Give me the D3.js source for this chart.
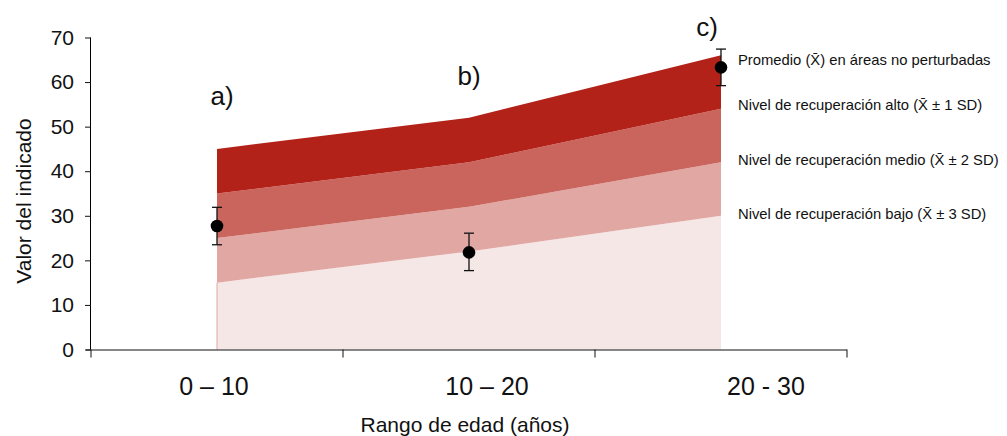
<!DOCTYPE html>
<html>
<head>
<meta charset="utf-8">
<script src="https://cdn.jsdelivr.net/npm/d3@7"></script>
<style>
  body { margin: 0; background: #fff; }
  svg { font-family: "Liberation Sans", Arial, Helvetica, sans-serif; }
</style>
</head>
<body>
<script>
// datos
var categorias = ["0 – 10", "10 – 20", "20 - 30"];
var letras = ["a)", "b)", "c)"];
var promedio = [27.7, 21.8, 63.3];
var errInf = [23.5, 17.7, 59.2];
var errSup = [31.9, 26.1, 67.4];
// limites de las bandas de recuperacion (de arriba a abajo)
var bandaTope = [45, 52, 66];
var banda1 = [35, 42, 54];
var banda2 = [25, 32, 42];
var banda3 = [15, 22, 30];
var ticksY = [0, 10, 20, 30, 40, 50, 60, 70];
var leyenda = [
  "Promedio (X\u0304) en áreas no perturbadas",
  "Nivel de recuperación alto (X\u0304 ± 1 SD)",
  "Nivel de recuperación medio (X\u0304 ± 2 SD)",
  "Nivel de recuperación bajo (X\u0304 ± 3 SD)"
];

var W = 1007, H = 436;
var svg = d3.select("body").append("svg")
  .attr("width", W)
  .attr("height", H);

var x = d3.scaleBand()
  .domain(categorias)
  .range([91, 847]);

var y = d3.scaleLinear()
  .domain([0, 70])
  .range([349.5, 37.5]);

var cx = function(i) { return x(categorias[i]) + x.bandwidth() / 2; };

// bandas, de la mas clara a la mas oscura
var capas = [
  { sup: banda3, inf: null, color: "#f5e7e6" },
  { sup: banda2, inf: banda3, color: "#e1a7a3" },
  { sup: banda1, inf: banda2, color: "#c9655d" },
  { sup: bandaTope, inf: banda1, color: "#b22219" }
];

var area = d3.area()
  .x(function(d) { return cx(d.i); })
  .y0(function(d) { return y(d.inf); })
  .y1(function(d) { return y(d.sup); });

capas.forEach(function(c) {
  var pts = categorias.map(function(k, i) {
    return { i: i, sup: c.sup[i], inf: c.inf ? c.inf[i] : 0 };
  });
  svg.append("path")
    .datum(pts)
    .attr("d", area)
    .attr("fill", c.color);
});

// borde izquierdo de la banda clara
svg.append("line")
  .attr("x1", cx(0)).attr("x2", cx(0))
  .attr("y1", y(0)).attr("y2", y(banda3[0]))
  .attr("stroke", "#e1a7a3")
  .attr("stroke-width", 1);

// ejes
var ejeY = svg.append("g")
  .attr("transform", "translate(91,0)")
  .call(d3.axisLeft(y).tickValues(ticksY).tickSize(6).tickPadding(11));
ejeY.select(".domain").attr("d", "M-0.5," + y(70) + "V" + y(0));
ejeY.selectAll("text").attr("font-size", 21).attr("fill", "#111").attr("font-family", null);
ejeY.selectAll("line").attr("stroke", "#111");

var ejeX = svg.append("g")
  .attr("transform", "translate(0," + y(0) + ")")
  .call(d3.axisBottom(x).tickValues([]).tickSizeOuter(0));
ejeX.select(".domain").attr("d", "M86,0.5H847").attr("stroke", "#111");

// marcas en los limites de las bandas
var limites = [x.range()[0]].concat(categorias.map(function(k) { return x(k) + x.bandwidth(); }));
ejeX.selectAll(".lim").data(limites).enter().append("line")
  .attr("x1", function(d) { return d; })
  .attr("x2", function(d) { return d; })
  .attr("y1", 0).attr("y2", 8)
  .attr("stroke", "#111");

// etiquetas del eje x (desplazadas como en el original)
var desplX = [-3, 18, 45];
svg.selectAll(".etqx").data(categorias).enter().append("text")
  .attr("x", function(d, i) { return cx(i) + desplX[i]; })
  .attr("y", 395)
  .attr("text-anchor", "middle")
  .attr("font-size", 25)
  .attr("fill", "#111")
  .text(function(d) { return d; });

svg.append("text")
  .attr("x", 465).attr("y", 432)
  .attr("text-anchor", "middle")
  .attr("font-size", 21)
  .attr("fill", "#111")
  .text("Rango de edad (años)");

svg.append("text")
  .attr("transform", "translate(31,201) rotate(-90)")
  .attr("text-anchor", "middle")
  .attr("font-size", 21)
  .attr("fill", "#111")
  .text("Valor del indicado");

// barras de error y puntos
var g = svg.append("g");
promedio.forEach(function(v, i) {
  var px = cx(i);
  g.append("line")
    .attr("x1", px).attr("x2", px)
    .attr("y1", y(errInf[i])).attr("y2", y(errSup[i]))
    .attr("stroke", "#111").attr("stroke-width", 1.3);
  [errInf[i], errSup[i]].forEach(function(e) {
    g.append("line")
      .attr("x1", px - 5).attr("x2", px + 5)
      .attr("y1", y(e)).attr("y2", y(e))
      .attr("stroke", "#111").attr("stroke-width", 1.3);
  });
  g.append("circle")
    .attr("cx", px).attr("cy", y(v))
    .attr("r", 6.3)
    .attr("fill", "#000");
});

// letras a) b) c)
var letraPos = [[222, 105], [469, 85], [707, 36]];
svg.selectAll(".letra").data(letras).enter().append("text")
  .attr("x", function(d, i) { return letraPos[i][0]; })
  .attr("y", function(d, i) { return letraPos[i][1]; })
  .attr("text-anchor", "middle")
  .attr("font-size", 26)
  .attr("fill", "#111")
  .text(function(d) { return d; });

// leyenda
var leyY = [65, 110, 165, 219];
svg.selectAll(".ley").data(leyenda).enter().append("text")
  .attr("x", 738)
  .attr("y", function(d, i) { return leyY[i]; })
  .attr("font-size", 14.8)
  .attr("fill", "#111")
  .text(function(d) { return d; });
</script>
</body>
</html>
